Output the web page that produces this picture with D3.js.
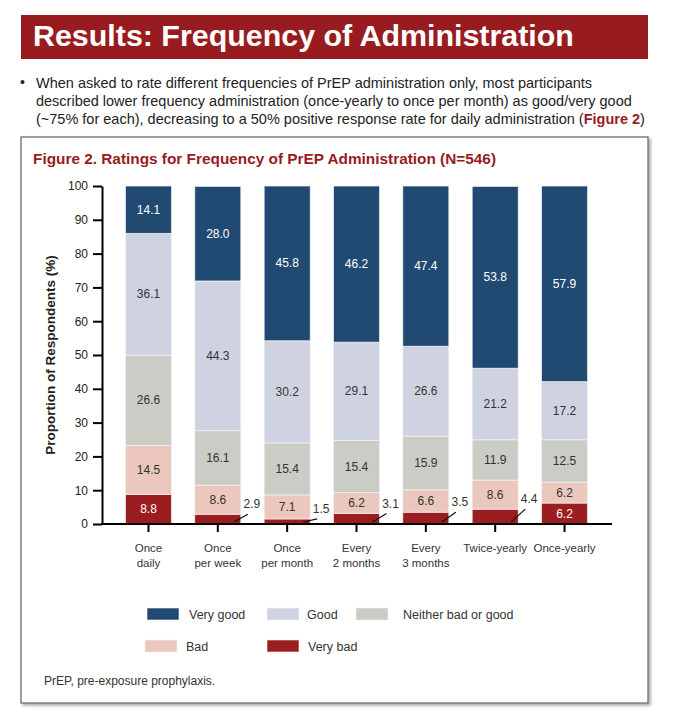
<!DOCTYPE html>
<html>
<head>
<meta charset="utf-8">
<script src="https://cdn.jsdelivr.net/npm/d3@7"></script>
<style>
  html, body { margin: 0; padding: 0; background: #fff; }
  svg { display: block; font-family: "Liberation Sans", Arial, sans-serif; }
</style>
</head>
<body>
<svg id="chart" width="678" height="719"></svg>
<script>
// ---- data ----
const categories = ["Once daily", "Once per week", "Once per month", "Every 2 months", "Every 3 months", "Twice-yearly", "Once-yearly"];
const categoryLines = [["Once", "daily"], ["Once", "per week"], ["Once", "per month"], ["Every", "2 months"], ["Every", "3 months"], ["Twice-yearly"], ["Once-yearly"]];
const seriesNames = ["Very bad", "Bad", "Neither bad or good", "Good", "Very good"];
const veryBad  = [8.8, 2.9, 1.5, 3.1, 3.5, 4.4, 6.2];
const bad      = [14.5, 8.6, 7.1, 6.2, 6.6, 8.6, 6.2];
const neither  = [26.6, 16.1, 15.4, 15.4, 15.9, 11.9, 12.5];
const good     = [36.1, 44.3, 30.2, 29.1, 26.6, 21.2, 17.2];
const veryGood = [14.1, 28.0, 45.8, 46.2, 47.4, 53.8, 57.9];
const yTicks = [0, 10, 20, 30, 40, 50, 60, 70, 80, 90, 100];
const legendOrder = ["Very good", "Good", "Neither bad or good", "Bad", "Very bad"];

const colors = {
  "Very good": "#214A72",
  "Good": "#CFD3E1",
  "Neither bad or good": "#CBCCC6",
  "Bad": "#EBC7BD",
  "Very bad": "#9A1D20"
};
const textColors = {
  "Very good": "#fff", "Good": "#333", "Neither bad or good": "#333", "Bad": "#333", "Very bad": "#fff"
};

const table = categories.map((c, i) => ({
  category: c,
  "Very bad": veryBad[i], "Bad": bad[i], "Neither bad or good": neither[i],
  "Good": good[i], "Very good": veryGood[i]
}));

const svg = d3.select("#chart");
const red = "#981C1F";

// drop shadow
const defs = svg.append("defs");
const f = defs.append("filter").attr("id", "shadow").attr("x", "-5%").attr("y", "-5%").attr("width", "115%").attr("height", "115%");
f.append("feDropShadow").attr("dx", 2).attr("dy", 2).attr("stdDeviation", 1.5).attr("flood-color", "#000").attr("flood-opacity", 0.35);

// ---- header ----
svg.append("rect").attr("x", 21).attr("y", 15).attr("width", 627).attr("height", 44).attr("fill", red);
const title = svg.append("text").attr("x", 33).attr("y", 46)
  .attr("fill", "#fff").attr("font-weight", "bold").attr("font-size", 27)
  .text("Results: Frequency of Administration");
fitWidth(title, 541);

// ---- bullet ----
svg.append("text").attr("x", 20).attr("y", 87).attr("font-size", 14).attr("fill", "#222").text("•");
const bulletLines = [
  { parts: [["When asked to rate different frequencies of PrEP administration only, most participants", false]], w: 556 },
  { parts: [["described lower frequency administration (once-yearly to once per month) as good/very good", false]], w: 596 },
  { parts: [["(~75% for each), decreasing to a 50% positive response rate for daily administration (", false], ["Figure 2", true], [")", false]], w: 609 }
];
bulletLines.forEach((l, i) => {
  const t = svg.append("text").attr("x", 36).attr("y", 88 + i * 18).attr("font-size", 14).attr("fill", "#222");
  l.parts.forEach(p => {
    const ts = t.append("tspan").text(p[0]);
    if (p[1]) ts.attr("fill", red).attr("font-weight", "bold");
  });
  fitWidth(t, l.w);
});

// ---- figure box ----
svg.append("rect").attr("x", 21).attr("y", 137).attr("width", 627).attr("height", 566)
  .attr("fill", "#fff").attr("stroke", "#6f6f6f").attr("stroke-width", 1.3).attr("filter", "url(#shadow)");

const figTitle = svg.append("text").attr("x", 33).attr("y", 164)
  .attr("fill", red).attr("font-weight", "bold").attr("font-size", 15)
  .text("Figure 2. Ratings for Frequency of PrEP Administration (N=546)");
fitWidth(figTitle, 463);

// ---- scales ----
const y = d3.scaleLinear().domain([0, 100]).range([524, 186]).clamp(true);
const x = d3.scaleBand().domain(categories).range([113.8, 599.2]).paddingInner(0.336).paddingOuter(0.168);

const stack = d3.stack().keys(seriesNames);
const stacked = stack(table);

const g = svg.append("g");
const layers = g.selectAll("g.layer").data(stacked).join("g").attr("class", "layer")
  .attr("fill", d => colors[d.key]);
layers.selectAll("rect").data(d => d.map(v => Object.assign(v, { key: d.key }))).join("rect")
  .attr("x", d => x(d.data.category))
  .attr("width", x.bandwidth())
  .attr("y", d => y(d[1]))
  .attr("height", d => y(d[0]) - y(d[1]))
  .attr("stroke", "#f4f4f8").attr("stroke-width", 0.7);

// value labels
stacked.forEach(layer => {
  layer.forEach(d => {
    const val = d.data[layer.key];
    const cx = x(d.data.category) + x.bandwidth() / 2;
    if (layer.key === "Very bad" && val < 5) {
      const ly = y(val) - 10;
      g.append("line")
        .attr("x1", cx + 16).attr("y1", y(0) - 2)
        .attr("x2", cx + 30).attr("y2", y(val))
        .attr("stroke", "#111").attr("stroke-width", 1.2);
      g.append("text").attr("x", cx + 34).attr("y", ly + 4)
        .attr("text-anchor", "middle").attr("font-size", 12).attr("fill", "#333")
        .text(val.toFixed(1));
    } else {
      g.append("text").attr("x", cx).attr("y", y((d[0] + Math.min(d[1], 100)) / 2) + 4)
        .attr("text-anchor", "middle").attr("font-size", 12).attr("fill", textColors[layer.key])
        .text(val.toFixed(1));
    }
  });
});

// y axis
const yAxis = svg.append("g").attr("transform", "translate(102,0)")
  .call(d3.axisLeft(y).tickValues(yTicks).tickSize(9).tickSizeOuter(0).tickPadding(5));
yAxis.select(".domain").attr("stroke", "#000").attr("stroke-width", 2);
yAxis.selectAll(".tick line").attr("stroke", "#000").attr("stroke-width", 2);
yAxis.selectAll(".tick text").attr("font-size", 12).attr("fill", "#222").attr("font-family", "Liberation Sans, Arial, sans-serif");

// x axis
const xAxis = svg.append("g").attr("transform", "translate(0,524)")
  .call(d3.axisBottom(x).tickSize(8).tickSizeOuter(0).tickFormat(""));
xAxis.select(".domain").remove();
xAxis.selectAll(".tick line").attr("stroke", "#000").attr("stroke-width", 2);
svg.append("line").attr("x1", 101).attr("x2", 612).attr("y1", 524).attr("y2", 524)
  .attr("stroke", "#000").attr("stroke-width", 2);

categories.forEach((c, i) => {
  const t = svg.append("text").attr("x", x(c) + x.bandwidth() / 2).attr("y", 552)
    .attr("text-anchor", "middle").attr("font-size", 11.5).attr("fill", "#333");
  categoryLines[i].forEach((line, j) => {
    t.append("tspan").attr("x", x(c) + x.bandwidth() / 2).attr("dy", j === 0 ? 0 : 15).text(line);
  });
});

// y label
svg.append("text").attr("transform", "translate(55,355) rotate(-90)")
  .attr("text-anchor", "middle").attr("font-size", 13.5).attr("font-weight", "bold").attr("fill", "#222")
  .text("Proportion of Respondents (%)");

// legend
const legendPos = {
  "Very good": [147, 608], "Good": [267, 608], "Neither bad or good": [356, 608],
  "Bad": [145, 640], "Very bad": [267, 640]
};
const legendTextX = { "Very good": 189, "Good": 307, "Neither bad or good": 403, "Bad": 186, "Very bad": 308 };
legendOrder.forEach(k => {
  const [lx, ly] = legendPos[k];
  svg.append("rect").attr("x", lx).attr("y", ly).attr("width", 32).attr("height", 12)
    .attr("fill", colors[k]).attr("stroke", "#f3f3f3").attr("stroke-width", 0.6);
  svg.append("text").attr("x", legendTextX[k]).attr("y", ly + 11).attr("font-size", 12.5).attr("fill", "#333").text(k);
});

// footnote
svg.append("text").attr("x", 44).attr("y", 685).attr("font-size", 12).attr("fill", "#333")
  .text("PrEP, pre-exposure prophylaxis.");

function fitWidth(sel, target) {
  const node = sel.node();
  const w = node.getComputedTextLength();
  if (w > 0) {
    const fs = parseFloat(sel.attr("font-size"));
    sel.attr("font-size", (fs * target / w).toFixed(2));
  }
}
</script>
</body>
</html>
